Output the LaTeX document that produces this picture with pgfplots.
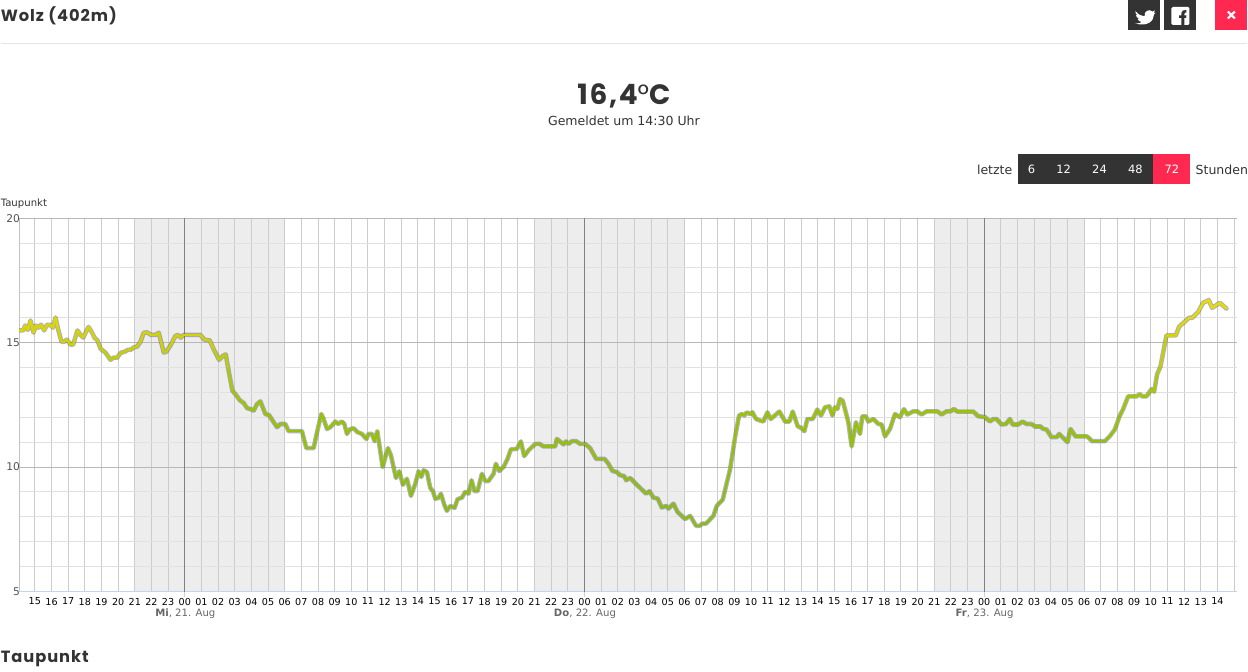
\documentclass[border=0pt]{standalone}
\usepackage{fontspec}
\setmainfont{DejaVu Sans}
\newfontfamily\headfont[LetterSpace=6]{Poppins}
\usepackage{pgfplots}
\usepackage{pgfplotstable}
\pgfplotsset{compat=1.18}
\definecolor{darkbox}{HTML}{333333}
\definecolor{redbox}{HTML}{FF2850}
\definecolor{bandgray}{HTML}{EDEDED}
\definecolor{txt}{HTML}{333333}
\definecolor{baseblue}{HTML}{C4D4EC}

\pgfplotstableread{
h t
-0.92 15.49
-0.70 15.49
-0.58 15.69
-0.42 15.51
-0.26 15.89
-0.08 15.40
0.06 15.69
0.20 15.60
0.38 15.72
0.56 15.49
0.74 15.72
0.94 15.71
1.08 15.60
1.24 16.01
1.40 15.53
1.60 15.04
1.74 15.03
1.92 15.12
2.14 14.92
2.30 14.92
2.56 15.49
2.74 15.31
2.90 15.20
3.22 15.63
3.38 15.47
3.58 15.20
3.76 15.09
3.94 14.76
4.24 14.60
4.54 14.31
4.74 14.40
4.94 14.40
5.18 14.60
5.38 14.63
5.58 14.71
5.78 14.72
5.94 14.81
6.14 14.84
6.34 15.03
6.54 15.40
6.74 15.41
6.98 15.31
7.24 15.31
7.44 15.40
7.74 14.60
7.90 14.64
8.18 14.93
8.44 15.27
8.58 15.31
8.76 15.20
8.94 15.31
9.94 15.31
10.18 15.12
10.50 15.09
10.74 14.73
11.06 14.31
11.30 14.47
11.46 14.53
11.62 13.93
11.86 13.07
12.04 12.93
12.30 12.69
12.54 12.57
12.74 12.37
12.94 12.33
13.14 12.27
13.34 12.53
13.54 12.64
13.64 12.47
13.84 12.13
14.06 12.09
14.34 11.80
14.54 11.60
14.74 11.73
15.04 11.73
15.24 11.44
16.04 11.44
16.30 10.76
16.74 10.76
16.94 11.40
17.20 12.13
17.34 11.93
17.54 11.53
17.74 11.60
18.04 11.83
18.20 11.73
18.44 11.83
18.58 11.73
18.74 11.33
18.90 11.51
19.14 11.56
19.38 11.40
19.64 11.33
19.90 11.13
20.04 11.33
20.24 11.33
20.40 11.04
20.56 11.44
20.88 10.00
21.20 10.76
21.38 10.47
21.68 9.56
21.88 9.83
22.10 9.29
22.34 9.53
22.58 8.84
22.84 9.33
23.04 9.83
23.20 9.60
23.34 9.87
23.54 9.80
23.74 9.16
23.90 9.03
24.04 8.73
24.24 8.76
24.38 8.93
24.58 8.49
24.74 8.24
24.94 8.44
25.20 8.36
25.38 8.71
25.64 8.77
25.84 9.00
26.04 8.93
26.22 9.47
26.40 9.03
26.58 9.03
26.84 9.73
27.04 9.44
27.24 9.44
27.54 9.73
27.68 10.13
27.88 9.84
28.14 10.00
28.38 10.33
28.58 10.71
28.94 10.73
29.18 11.03
29.38 10.44
29.64 10.67
30.04 10.93
30.30 10.93
30.54 10.83
31.24 10.83
31.34 11.13
31.58 11.00
31.74 10.91
31.88 11.03
32.04 10.93
32.24 11.04
32.50 11.04
32.74 10.93
33.04 10.93
33.34 10.76
33.70 10.33
34.20 10.33
34.44 10.13
34.68 9.84
34.94 9.80
35.14 9.67
35.38 9.64
35.50 9.47
35.74 9.56
36.14 9.29
36.70 8.93
36.90 9.03
37.14 8.77
37.40 8.73
37.64 8.37
37.90 8.44
38.04 8.33
38.34 8.53
38.58 8.20
39.04 7.91
39.34 8.04
39.70 7.64
39.90 7.64
40.10 7.73
40.30 7.73
40.74 8.04
40.94 8.44
41.30 8.69
41.74 9.91
42.04 11.20
42.28 12.07
42.44 12.13
42.60 12.07
42.74 12.20
42.94 12.13
43.08 12.20
43.30 11.93
43.54 11.87
43.74 11.83
43.98 12.20
44.18 11.93
44.70 12.23
45.04 11.83
45.30 11.83
45.50 12.23
45.80 11.64
46.04 11.56
46.20 11.44
46.38 11.93
46.70 11.93
46.98 12.31
47.20 12.07
47.44 12.40
47.70 12.44
47.88 12.07
48.04 12.40
48.18 12.33
48.34 12.73
48.50 12.67
48.74 12.07
48.84 11.80
49.04 10.83
49.30 11.80
49.54 11.33
49.68 12.04
49.88 12.04
50.04 11.83
50.34 11.93
50.64 11.73
50.84 11.71
51.04 11.23
51.34 11.53
51.64 12.13
51.94 12.00
52.18 12.33
52.38 12.11
52.74 12.24
52.98 12.24
53.24 12.11
53.54 12.24
54.18 12.24
54.44 12.11
54.74 12.24
54.98 12.24
55.18 12.33
55.38 12.23
56.34 12.23
56.64 12.04
57.04 12.01
57.34 11.83
57.54 11.93
57.74 11.93
58.04 11.71
58.30 11.73
58.54 11.93
58.70 11.71
59.04 11.71
59.30 11.83
59.54 11.73
59.84 11.73
60.04 11.63
60.38 11.63
60.54 11.53
60.74 11.51
61.04 11.20
61.34 11.20
61.50 11.33
62.00 11.00
62.18 11.53
62.48 11.23
63.18 11.23
63.48 11.04
64.24 11.04
64.54 11.24
64.84 11.51
65.14 12.07
65.34 12.33
65.64 12.84
66.14 12.84
66.34 12.93
66.48 12.84
66.74 12.84
67.04 13.13
67.20 13.03
67.38 13.73
67.58 14.04
67.94 15.29
68.50 15.29
68.70 15.64
69.30 16.00
69.50 16.00
69.84 16.23
70.14 16.60
70.48 16.71
70.68 16.40
70.90 16.49
71.14 16.60
71.54 16.37
}\dewpoint

\begin{document}
\begin{tikzpicture}
\begin{axis}[
    at={(14.03pt,-163.8pt)}, anchor=north west,
    scale only axis,
    width=914.5pt, height=280.2pt,
    xmin=-0.94, xmax=72.2,
    ymin=5, ymax=20,
    clip mode=individual,
    set layers,
    axis line style={draw=none},
    major tick length=0pt, minor tick length=0pt,
    xtick={0,...,72},
    xticklabels={15,16,17,18,19,20,21,22,23,00,01,02,03,04,05,06,07,08,09,10,11,12,13,14,15,16,17,18,19,20,21,22,23,00,01,02,03,04,05,06,07,08,09,10,11,12,13,14,15,16,17,18,19,20,21,22,23,00,01,02,03,04,05,06,07,08,09,10,11,12,13,14,{}},
    xticklabel style={font=\fontsize{7.2pt}{8pt}\selectfont, text=black, yshift=-1.3pt},
    ytick={5,10,15,20},
    minor ytick={6,7,8,9,11,12,13,14,16,17,18,19},
    yticklabel style={font=\fontsize{8pt}{9pt}\selectfont, text=txt!85, xshift=4pt},
    /pgf/number format/assume math mode=true,
    grid=both,
    x grid style={color=black!20, line width=0.75pt},
    y grid style={color=black!12, line width=0.75pt},
    colormap={dew}{rgb255(0cm)=(138,188,22); rgb255(2cm)=(144,190,18); rgb255(4cm)=(150,196,0); rgb255(5cm)=(160,200,0); rgb255(7cm)=(205,210,0); rgb255(8cm)=(225,218,0); rgb255(9cm)=(238,222,0)},
    point meta min=8, point meta max=17,
]
% night bands
\addplot[on layer=axis background, fill=bandgray, draw=none] coordinates {(6,5) (15,5) (15,20) (6,20)} --cycle;
\addplot[on layer=axis background, fill=bandgray, draw=none] coordinates {(30,5) (39,5) (39,20) (30,20)} --cycle;
\addplot[on layer=axis background, fill=bandgray, draw=none] coordinates {(54,5) (63,5) (63,20) (54,20)} --cycle;

\draw[black!28, line width=0.75pt] (axis cs:-0.94,10) -- (axis cs:72.2,10);
\draw[black!28, line width=0.75pt] (axis cs:-0.94,15) -- (axis cs:72.2,15);
\draw[black!24, line width=0.75pt] (axis cs:-0.94,5) -- (axis cs:-0.94,20);
\draw[black!28, line width=0.75pt] (axis cs:-0.94,20) -- (axis cs:72.2,20);
\draw[baseblue, line width=0.75pt] (axis cs:-0.94,5) -- (axis cs:72.2,5);
\draw[black!50, line width=0.75pt] (axis cs:9,20) -- (axis cs:9,4.98);
\draw[black!50, line width=0.75pt] (axis cs:33,20) -- (axis cs:33,4.98);
\draw[black!50, line width=0.75pt] (axis cs:57,20) -- (axis cs:57,4.98);
\draw[baseblue, line width=0.75pt] (axis cs:9,4.98) -- (axis cs:9,4.76);
\draw[baseblue, line width=0.75pt] (axis cs:33,4.98) -- (axis cs:33,4.76);
\draw[baseblue, line width=0.75pt] (axis cs:57,4.98) -- (axis cs:57,4.76);

\addplot[color=black!60, opacity=0.5, line width=3.4pt, line join=round, line cap=round, no markers] table[x=h,y=t] {\dewpoint};
\addplot[mesh, point meta=y, line width=1.8pt, line join=round, line cap=round, no markers] table[x=h,y=t] {\dewpoint};
\end{axis}

\begin{scope}[x=0.75pt, y=-0.75pt]
% header
\draw[black!10, line width=0.75pt] (0,43.5) -- (1248,43.5);
\node[anchor=west, inner sep=0pt, text=txt] at (0,15.5) {\headfont\bfseries\fontsize{12.2pt}{14pt}\selectfont Wolz (402m)};
\fill[darkbox] (1129,0) rectangle (1161,30);
\fill[darkbox] (1165,0) rectangle (1197,30);
\fill[redbox] (1216,0) rectangle (1248,30);
\draw[white, line width=1.5pt] (1228.5,11.5) -- (1235.5,18.5) (1228.5,18.5) -- (1235.5,11.5);
% facebook
\fill[white, rounded corners=1pt] (1172,7) rectangle (1190,25);
\fill[darkbox] (1182,25) -- (1182,18) -- (1179.7,18) -- (1179.7,15.5) -- (1182,15.5) -- (1182,13) .. controls (1182,10.5) and (1184,9.8) .. (1187,10) -- (1187,12.5) .. controls (1185.5,12.4) and (1185,12.8) .. (1185,14) -- (1185,15.5) -- (1187,15.5) -- (1186.6,18) -- (1185,18) -- (1185,25) -- cycle;
% twitter
\fill[white] (1136,11) .. controls (1139,15) and (1142,16) .. (1145,16.3) .. controls (1144.5,11) and (1150,8.5) .. (1153,11.5) -- (1155.5,10.5) -- (1154.3,13) -- (1156,12.7) -- (1154.5,14.5) .. controls (1154.5,21) and (1148,27) .. (1136,23.5) .. controls (1139,23.7) and (1141,23) .. (1142.3,22) .. controls (1140,21.8) and (1138.8,20.5) .. (1138.2,19) -- (1140,19) .. controls (1137.5,18) and (1136.5,16.5) .. (1136.5,15) -- (1138.2,15.5) .. controls (1136,14) and (1135.6,12.5) .. (1136,11) -- cycle;
% current value
\node[inner sep=0pt, text=txt] at (624,96) {\headfont\bfseries\fontsize{21pt}{24pt}\selectfont 16,4{\mdseries °}C};
\node[inner sep=0pt, text=txt] at (624,121) {\fontsize{9.4pt}{11pt}\selectfont Gemeldet um 14:30 Uhr};
% range buttons
\fill[darkbox] (1018,154) rectangle (1154,184);
\fill[redbox] (1154,154) rectangle (1191,184);
\node[anchor=east, inner sep=0pt, text=txt] at (1013,170) {\fontsize{9.4pt}{11pt}\selectfont letzte};
\node[anchor=west, inner sep=0pt, text=txt] at (1196,170) {\fontsize{9.4pt}{11pt}\selectfont Stunden};
\foreach \xx/\lab in {1032/6,1064/12,1100/24,1136/48,1172.5/72}
  \node[inner sep=0pt, text=white] at (\xx,169.5) {\fontsize{8.6pt}{10pt}\selectfont \lab};
% labels
\node[anchor=west, inner sep=0pt, text=txt] at (0,203.5) {\fontsize{7.6pt}{9pt}\selectfont Taupunkt};
\node[inner sep=0pt, text=black!60] at (185,614.5) {\fontsize{7.6pt}{9pt}\selectfont \textbf{Mi}, 21. Aug};
\node[inner sep=0pt, text=black!60] at (585,614.5) {\fontsize{7.6pt}{9pt}\selectfont \textbf{Do}, 22. Aug};
\node[inner sep=0pt, text=black!60] at (985,614.5) {\fontsize{7.6pt}{9pt}\selectfont \textbf{Fr}, 23. Aug};
\node[anchor=west, inner sep=0pt, text=txt] at (0,659) {\headfont\bfseries\fontsize{12.2pt}{14pt}\selectfont Taupunkt};
\path (0,0) rectangle (1248,672);
\end{scope}
\end{tikzpicture}
\end{document}
